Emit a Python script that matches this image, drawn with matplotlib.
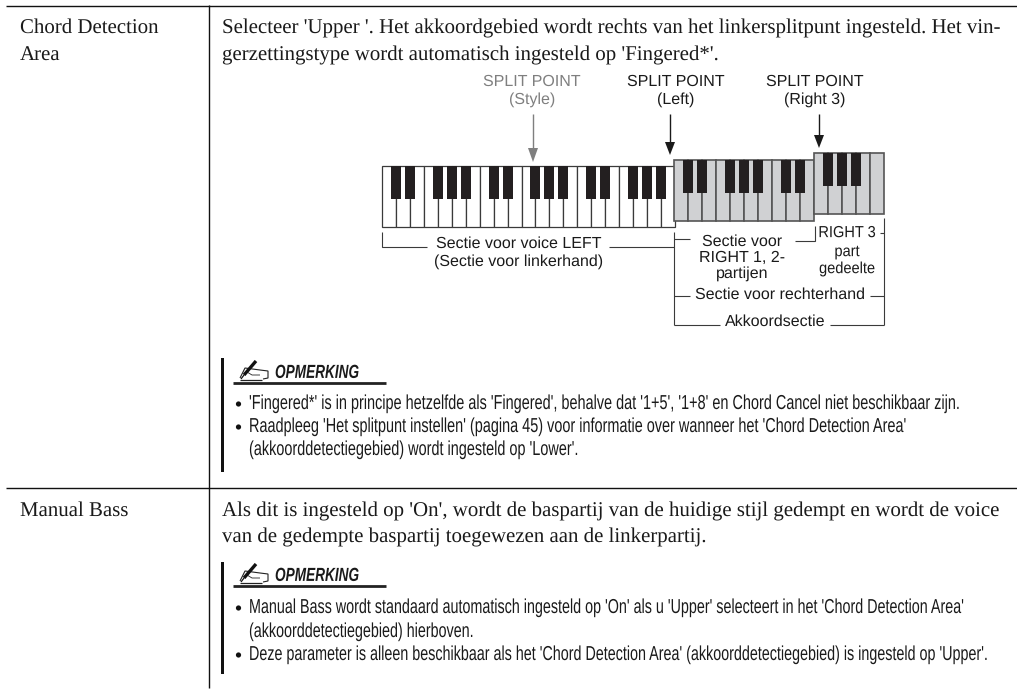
import matplotlib
matplotlib.use("Agg")
import matplotlib.pyplot as plt
from matplotlib.patches import Rectangle, Polygon, Circle
from matplotlib.patheffects import AbstractPathEffect
from matplotlib.transforms import Affine2D, Bbox

plt.rcParams["text.hinting"] = "none"

# tekst uit de pagina
links_labels = [["Chord Detection", "Area"], ["Manual Bass"]]
tekst_rij1 = ["Selecteer 'Upper '. Het akkoordgebied wordt rechts van het linkersplitpunt ingesteld. Het vin-",
              "gerzettingstype wordt automatisch ingesteld op 'Fingered*'."]
tekst_rij2 = ["Als dit is ingesteld op 'On', wordt de baspartij van de huidige stijl gedempt en wordt de voice",
              "van de gedempte baspartij toegewezen aan de linkerpartij."]
opmerking1 = ["'Fingered*' is in principe hetzelfde als 'Fingered', behalve dat '1+5', '1+8' en Chord Cancel niet beschikbaar zijn.",
              "Raadpleeg 'Het splitpunt instellen' (pagina 45) voor informatie over wanneer het 'Chord Detection Area'",
              "(akkoorddetectiegebied) wordt ingesteld op 'Lower'."]
opmerking2 = ["Manual Bass wordt standaard automatisch ingesteld op 'On' als u 'Upper' selecteert in het 'Chord Detection Area'",
              "(akkoorddetectiegebied) hierboven.",
              "Deze parameter is alleen beschikbaar als het 'Chord Detection Area' (akkoorddetectiegebied) is ingesteld op 'Upper'."]
opmerking_titel = "OPMERKING"
split_labels = [["SPLIT POINT", "(Style)"], ["SPLIT POINT", "(Left)"], ["SPLIT POINT", "(Right 3)"]]

# toetsen: aantal witte toetsen en de zwarte toetsen (grens tussen witte toetsen)
wit_links = 21
zwart_links = [1, 2, 4, 5, 6, 8, 9, 11, 12, 13, 15, 16, 18, 19, 20]
wit_midden = 10
zwart_midden = [1, 2, 4, 5, 6, 8, 9]
wit_rechts = 5
zwart_rechts = [1, 2, 3]

GRIJS = "#d0d1d3"
ZWART = "#231f20"
LIJN = "#3a3a3a"
SERIF = "Liberation Serif"
SANS = "Liberation Sans"
SMAL_FACTOR = 0.72

fig = plt.figure(figsize=(10.17, 6.89), dpi=100)
ax = fig.add_axes([0, 0, 1, 1])
ax.set_xlim(0, 1017)
ax.set_ylim(689, 0)
ax.axis("off")


class Smal(AbstractPathEffect):
    # geen narrow font aanwezig, dus de letters horizontaal indrukken vanaf x0
    def __init__(self, x0, factor=SMAL_FACTOR):
        super().__init__()
        self.x0 = x0
        self.factor = factor

    def draw_path(self, renderer, gc, tpath, affine, rgbFace=None):
        t = affine + Affine2D().translate(-self.x0, 0).scale(self.factor, 1).translate(self.x0, 0)
        renderer.draw_path(gc, tpath, t, rgbFace)


def lijn(xs, ys, kleur=LIJN, dik=0.8):
    ax.plot(xs, ys, color=kleur, lw=dik, solid_capstyle="butt", solid_joinstyle="miter")


def tekst(x, y, s, **kw):
    return ax.text(x, y, s, color=kw.pop("color", "#1a1a1a"), **kw)


def smal_tekst(x, y, s, factor=SMAL_FACTOR, **kw):
    # ingedrukte tekst, de bbox moet ook kloppen met wat er getekend wordt
    t = tekst(x, y, s, path_effects=[Smal(x, factor)], **kw)
    oud = t._get_layout

    def layout(renderer):
        b, info, descent = oud(renderer)
        return Bbox.from_extents(b.x0 * factor, b.y0, b.x1 * factor, b.y1), info, descent

    t._get_layout = layout
    return t


def past_op_breedte(s, breedte, **kw):
    # lettergrootte zoeken zodat de regel even breed is als in het voorbeeld
    t = ax.text(0, 0, s, fontsize=10, **kw)
    b = t.get_window_extent(fig.canvas.get_renderer()).width
    t.remove()
    return 10 * breedte / b


# tabel lijnen
lijn([6, 1017], [5.5, 5.5], "#111111", 1.0)
lijn([6, 1017], [487.5, 487.5], "#111111", 1.0)
lijn([208.5, 208.5], [5, 688], "#111111", 1.0)

# linker kolom + hoofdtekst
maat_serif = past_op_breedte(tekst_rij1[0], 776, family=SERIF)
for s, y in zip(links_labels[0], [33, 60.5]):
    tekst(20, y, s, family=SERIF, fontsize=maat_serif, va="baseline")
tekst(20, 516, links_labels[1][0], family=SERIF, fontsize=maat_serif, va="baseline")
for s, y in zip(tekst_rij1, [33, 60.5]):
    tekst(222, y, s, family=SERIF, fontsize=maat_serif, va="baseline")
for s, y in zip(tekst_rij2, [516, 542]):
    tekst(222, y, s, family=SERIF, fontsize=maat_serif, va="baseline")


# toetsenbord
def toetsen(x0, y0, n, zwart, kleur, rand, dik, breedte=13.95, hoogte=61, zwart_h=33):
    for i in range(n):
        ax.add_patch(Rectangle((x0 + i * breedte, y0), breedte, hoogte, fc=kleur, ec=rand, lw=dik, zorder=2))
    for k in zwart:
        ax.add_patch(Rectangle((x0 + k * breedte - 5, y0), 10, zwart_h, fc=ZWART, ec="none", zorder=3))


toetsen(382, 166, wit_links, zwart_links, "white", LIJN, 0.9)
toetsen(674, 159.5, wit_midden, zwart_midden, GRIJS, "#555555", 1.2)
toetsen(814, 153, wit_rechts, zwart_rechts, GRIJS, "#555555", 1.2)


# split point labels en pijlen
def pijl(x, y0, y1, kop, kleur):
    lijn([x, x], [y0, y1 - kop + 1], kleur, 1.0)
    ax.add_patch(Polygon([(x - 5, y1 - kop), (x + 5, y1 - kop), (x, y1)], fc=kleur, ec="none", zorder=4))


kleuren = ["#7f7f7f", "#1a1a1a", "#1a1a1a"]
posities = [532, 676, 815]
maat_diagram = past_op_breedte("SPLIT POINT", 97.7, family=SANS)
for lab, kl, x in zip(split_labels, kleuren, posities):
    tekst(x, 82, lab[0], family=SANS, fontsize=maat_diagram, ha="center", va="center", color=kl)
    tekst(x, 100, lab[1], family=SANS, fontsize=maat_diagram, ha="center", va="center", color=kl)
pijl(533, 114, 162, 14, "#7f7f7f")
pijl(670, 114, 155, 13, "#1a1a1a")
pijl(819, 114, 148, 13, "#1a1a1a")

# haken onder het toetsenbord
lijn([382, 382, 427], [232, 247, 247])
lijn([609, 674], [247, 247])
lijn([674, 674], [232, 325])
lijn([674, 690], [239, 239])
lijn([795, 814.5, 814.5], [241, 241, 226])
lijn([880, 884], [233, 233])
lijn([884, 884], [218, 325])
lijn([674, 690], [296, 296])
lijn([870, 884], [296, 296])
lijn([674, 720], [325, 325])
lijn([830, 884], [325, 325])

kw = dict(family=SANS, fontsize=maat_diagram, ha="center", va="center")
tekst(519, 244, "Sectie voor voice LEFT", **kw)
tekst(519, 262, "(Sectie voor linkerhand)", **kw)
tekst(742, 242, "Sectie voor", **kw)
tekst(742, 258, "RIGHT 1, 2-", **kw)
tekst(742, 274, "partijen", **kw)
smal_tekst(847, 233, "RIGHT 3", factor=0.91, **kw)
smal_tekst(847, 252, "part", factor=0.91, **kw)
smal_tekst(847, 269, "gedeelte", factor=0.91, **kw)
tekst(780, 295, "Sectie voor rechterhand", **kw)
tekst(775, 322, "Akkoordsectie", **kw)

# opmerking blokken
maat_smal = past_op_breedte(opmerking1[0], 714, family=SANS) / SMAL_FACTOR
maat_titel = past_op_breedte(opmerking_titel, 84, family=SANS, weight="bold", style="italic") / SMAL_FACTOR


def potlood(x, y):
    # klein handje met pen
    lijn([x + 2, x + 7, x + 22, x + 30, x + 30, x + 25], [y + 18, y + 8, y + 10, y + 11, y + 18, y + 19], "#222222", 0.8)
    lijn([x + 9, x + 14, x + 22], [y + 12, y + 15, y + 15], "#222222", 0.6)
    lijn([x + 2, x + 24], [y + 20, y + 20], "#222222", 0.9)
    lijn([x + 18, x + 6], [y + 1, y + 15], "#111111", 2.4)
    lijn([x + 6, x + 3], [y + 15, y + 19], "#111111", 0.9)


def opmerking(y_top, y_onder, y_titel, y_streep, regels, basis, bullets, factor):
    ax.add_patch(Rectangle((221, y_top), 3.3, y_onder - y_top, fc="#111111", ec="none"))
    potlood(238, y_streep - 23)
    smal_tekst(275, y_titel, opmerking_titel, family=SANS, fontsize=maat_titel, weight="bold", style="italic", va="center")
    lijn([233, 386], [y_streep, y_streep], "#222222", 2.0)
    for s, y in zip(regels, basis):
        smal_tekst(249, y, s, factor=factor, family=SANS, fontsize=maat_smal, va="baseline")
    for y in bullets:
        ax.add_patch(Circle((238.5, y), 2.6, fc="#111111", ec="none"))


opmerking(358, 472, 373, 383, opmerking1, [409, 432, 455], [404, 427], SMAL_FACTOR * 0.995)
opmerking(562, 674, 576, 586, opmerking2, [613, 637, 660], [608, 655], SMAL_FACTOR * 0.986)

fig.savefig("out.png", dpi=100, facecolor="white")
